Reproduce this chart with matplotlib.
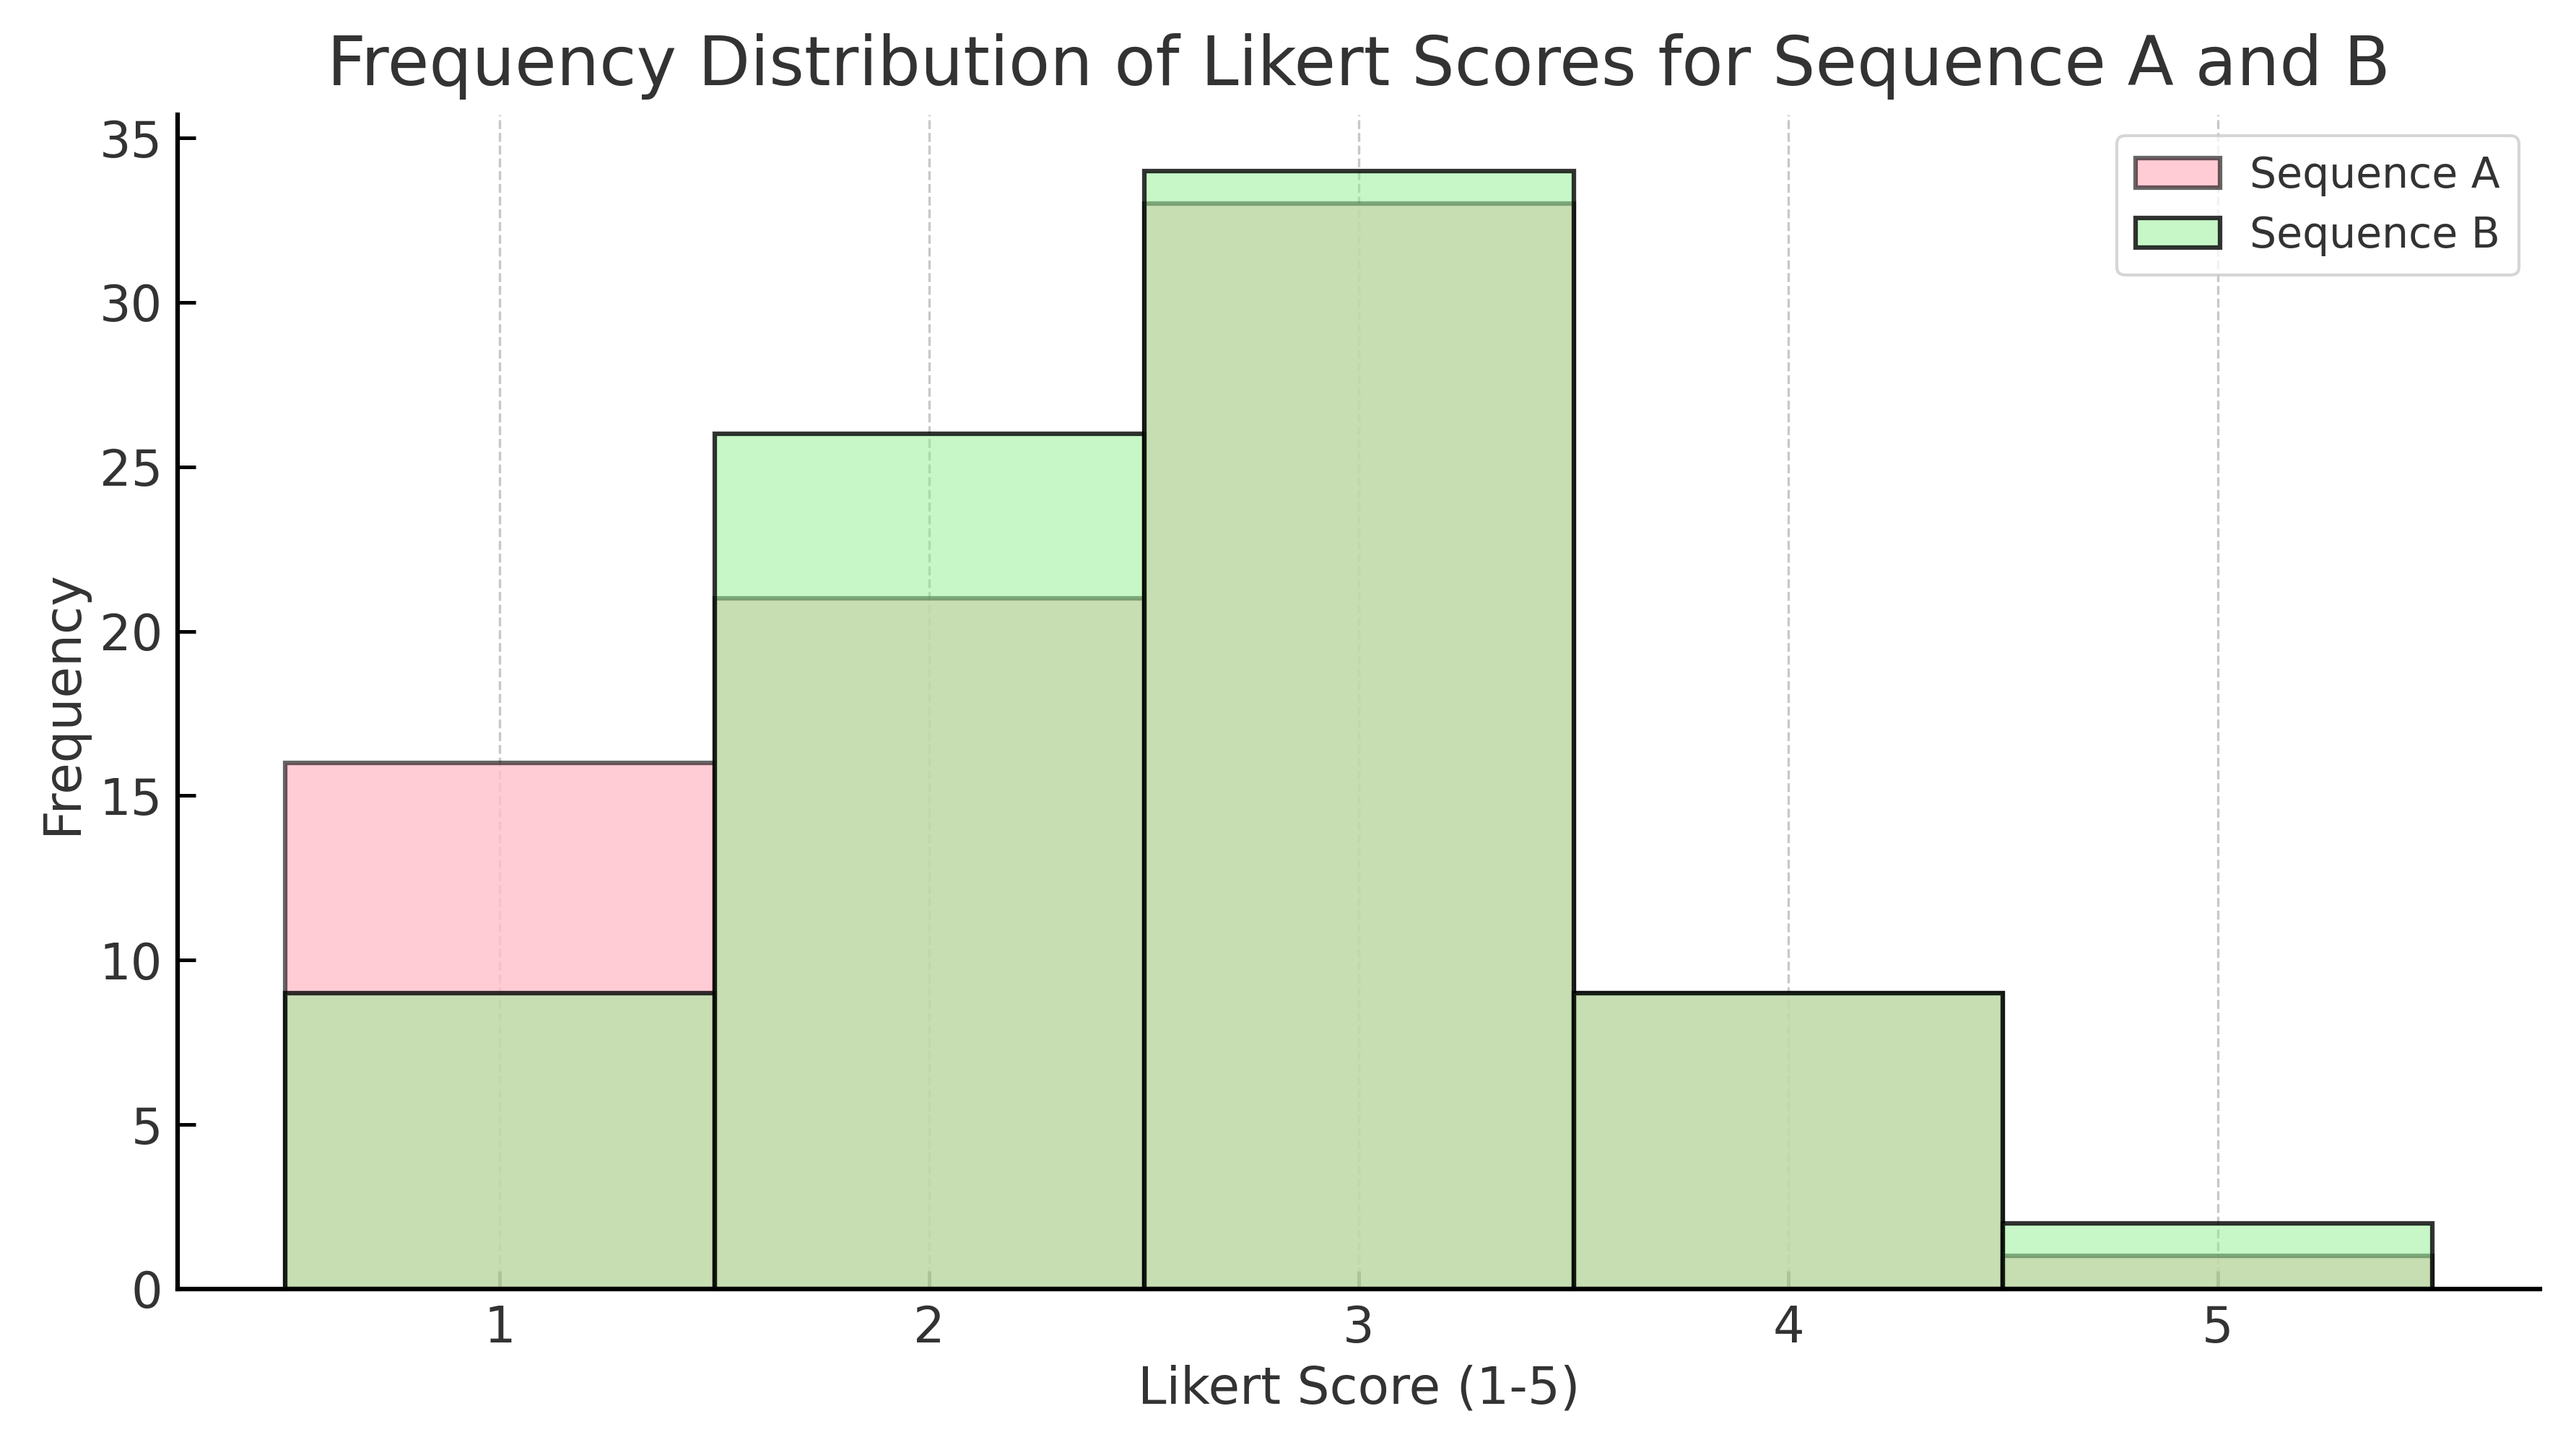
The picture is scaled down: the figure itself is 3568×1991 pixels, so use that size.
import numpy as np
from matplotlib import pyplot

# counts per Likert score
scores = [1, 2, 3, 4, 5]
countsA = [16, 21, 33, 9, 1]
countsB = [9, 26, 34, 9, 2]

bins = np.arange(0.5, 6.5, 1)
textColor = '#333333'

fig = pyplot.figure(figsize=(3568 / 300, 1991 / 300), dpi=300)
ax = fig.add_axes([0.069, 0.103, 0.917, 0.817])

ax.hist(scores, bins=bins, weights=countsA, facecolor=(1.0, 0.753, 0.796, 0.8),
        edgecolor=(0, 0, 0, 0.6), linewidth=1.5, label='Sequence A')
ax.hist(scores, bins=bins, weights=countsB, facecolor=(0.565, 0.933, 0.565, 0.5),
        edgecolor=(0, 0, 0, 0.8), linewidth=1.5, label='Sequence B')

ax.set_title('Frequency Distribution of Likert Scores for Sequence A and B',
             fontsize=22.5, color=textColor, pad=10)
ax.set_xlabel('Likert Score (1-5)', fontsize=17, color=textColor, labelpad=4)
ax.set_ylabel('Frequency', fontsize=17, color=textColor, labelpad=4)
ax.set_xticks(scores)
ax.tick_params(direction='in', labelsize=16.5, labelcolor=textColor,
               length=6, width=1.2, pad=5)

ax.grid(axis='x', linestyle='--', color='#bbbbbb', linewidth=0.8, alpha=0.8)
ax.set_axisbelow(True)
for side in ['top', 'right']:
    ax.spines[side].set_visible(False)
for side in ['left', 'bottom']:
    ax.spines[side].set_linewidth(1.5)

leg = ax.legend(fontsize=14, loc='upper right', frameon=True,
                handlelength=2.0, handletextpad=0.7, borderpad=0.45,
                labelspacing=0.45)
for t in leg.get_texts():
    t.set_color(textColor)

fig.savefig('out.png', dpi=300)
